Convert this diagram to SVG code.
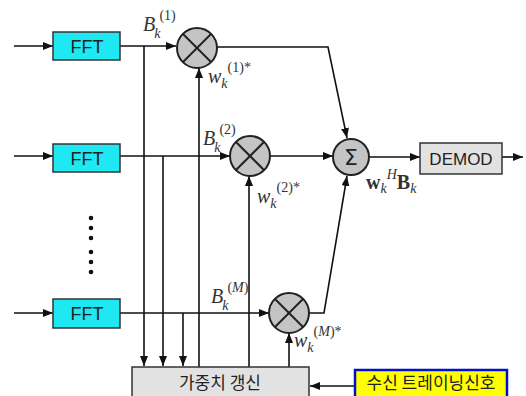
<svg xmlns="http://www.w3.org/2000/svg" width="526" height="396" viewBox="0 0 526 396">
<style>
.ln{fill:none;stroke:#111;stroke-width:1.6}
.fft{fill:#1ee8f2;stroke:#333;stroke-width:1.5}
.box{fill:#e2e2e2;stroke:#333;stroke-width:1.5}
.mul{fill:#c4c4c4;stroke:#222;stroke-width:2}
.x{stroke:#222;stroke-width:2}
.t{font-family:"Liberation Sans",Arial,sans-serif;font-size:18px;fill:#222;text-anchor:middle}
.k{font-family:"Noto Sans CJK KR","Liberation Sans",sans-serif;font-size:17px;fill:#222;text-anchor:middle}
.m{font-family:"Liberation Serif","Times New Roman",serif;font-style:italic;font-size:20px;fill:#333}
.s{font-size:14px;font-style:normal}
.sub{font-size:14px}
</style>
<defs>
<marker id="ah" markerWidth="10" markerHeight="8" refX="10" refY="4" orient="auto" markerUnits="userSpaceOnUse">
<path d="M0,0 L10,4 L0,8 Z" fill="#111"/>
</marker>
</defs>
<rect width="526" height="396" fill="#fff"/>
<g id="connectors">
<line class="ln" x1="14" y1="46" x2="53" y2="46" marker-end="url(#ah)"/>
<line class="ln" x1="120" y1="46" x2="176" y2="46" marker-end="url(#ah)"/>
<line class="ln" x1="144" y1="46" x2="144" y2="366" marker-end="url(#ah)"/>
<line class="ln" x1="14" y1="156" x2="53" y2="156" marker-end="url(#ah)"/>
<line class="ln" x1="120" y1="156" x2="230" y2="156" marker-end="url(#ah)"/>
<line class="ln" x1="163" y1="156" x2="163" y2="366" marker-end="url(#ah)"/>
<line class="ln" x1="14" y1="313" x2="53" y2="313" marker-end="url(#ah)"/>
<line class="ln" x1="120" y1="313" x2="269" y2="313" marker-end="url(#ah)"/>
<line class="ln" x1="183" y1="313" x2="183" y2="366" marker-end="url(#ah)"/>
<line class="ln" x1="199" y1="367" x2="199" y2="68" marker-end="url(#ah)"/>
<line class="ln" x1="249" y1="367" x2="249" y2="176" marker-end="url(#ah)"/>
<line class="ln" x1="289" y1="367" x2="289" y2="333" marker-end="url(#ah)"/>
<polyline class="ln" points="217,47 328,47 347,138" marker-end="url(#ah)"/>
<line class="ln" x1="270" y1="156" x2="333" y2="156" marker-end="url(#ah)"/>
<polyline class="ln" points="309,313 324,313 347,176" marker-end="url(#ah)"/>
<line class="ln" x1="369" y1="157" x2="420" y2="157" marker-end="url(#ah)"/>
<line class="ln" x1="502" y1="157" x2="523" y2="157" marker-end="url(#ah)"/>
<line class="ln" x1="355" y1="386" x2="310" y2="386" marker-end="url(#ah)"/>
</g>
<g id="fft1"><rect class="fft" x="53" y="32" width="67" height="28"/><text class="t" x="87" y="53">FFT</text></g>
<g id="fft2"><rect class="fft" x="53" y="144" width="67" height="28"/><text class="t" x="87" y="165">FFT</text></g>
<g id="fft3"><rect class="fft" x="53" y="299" width="67" height="29"/><text class="t" x="87" y="320">FFT</text></g>
<g id="dots" fill="#111">
<circle cx="91" cy="218" r="2.3"/><circle cx="91" cy="228" r="2.3"/><circle cx="91" cy="238" r="2.3"/>
<circle cx="91" cy="252" r="2.3"/><circle cx="91" cy="262" r="2.3"/><circle cx="91" cy="272" r="2.3"/>
</g>
<g id="mul1"><circle class="mul" cx="197" cy="48" r="20"/><line class="x" x1="183" y1="34" x2="211" y2="62"/><line class="x" x1="211" y1="34" x2="183" y2="62"/></g>
<g id="mul2"><circle class="mul" cx="250" cy="156" r="20"/><line class="x" x1="236" y1="142" x2="264" y2="170"/><line class="x" x1="264" y1="142" x2="236" y2="170"/></g>
<g id="mulM"><circle class="mul" cx="289" cy="313" r="20"/><line class="x" x1="275" y1="299" x2="303" y2="327"/><line class="x" x1="303" y1="299" x2="275" y2="327"/></g>
<g id="sum"><circle class="mul" cx="351" cy="157" r="18"/><text x="351" y="165" font-family="DejaVu Sans,sans-serif" font-size="22" fill="#222" text-anchor="middle">Σ</text></g>
<g id="demod"><rect class="box" x="420" y="143" width="82" height="31"/><text class="t" x="461" y="165" style="font-size:17px">DEMOD</text></g>
<g id="update"><rect class="box" x="132" y="367" width="177" height="34"/><text class="k" x="220" y="389">가중치 갱신</text></g>
<g id="training"><rect x="355" y="370" width="152" height="30" fill="#ffff00" stroke="#0010c8" stroke-width="2.5"/><text class="k" x="431" y="389">수신 트레이닝신호</text></g>
<g id="labels">
<text class="m" x="143" y="31">B<tspan class="sub" dx="-1" dy="7">k</tspan><tspan class="s" dx="-1" dy="-18">(1)</tspan></text>
<text class="m" x="208" y="83">w<tspan class="sub" dy="5">k</tspan><tspan class="s" dx="0" dy="-16">(1)*</tspan></text>
<text class="m" x="203" y="145">B<tspan class="sub" dx="-1" dy="7">k</tspan><tspan class="s" dx="-1" dy="-18">(2)</tspan></text>
<text class="m" x="257" y="203">w<tspan class="sub" dy="5">k</tspan><tspan class="s" dx="0" dy="-16">(2)*</tspan></text>
<text class="m" x="211" y="303">B<tspan class="sub" dx="-1" dy="7">k</tspan><tspan class="s" dx="-1" dy="-18">(<tspan font-style="italic">M</tspan>)</tspan></text>
<text class="m" x="294" y="347">w<tspan class="sub" dy="5">k</tspan><tspan class="s" dx="0" dy="-16">(<tspan font-style="italic">M</tspan>)*</tspan></text>
<text class="m" x="366" y="189"><tspan font-weight="bold" font-style="normal">w</tspan><tspan class="sub" dy="4">k</tspan><tspan class="sub" dy="-14">H</tspan><tspan font-weight="bold" font-style="normal" dy="10">B</tspan><tspan class="sub" dy="4">k</tspan></text>
</g>
</svg>
